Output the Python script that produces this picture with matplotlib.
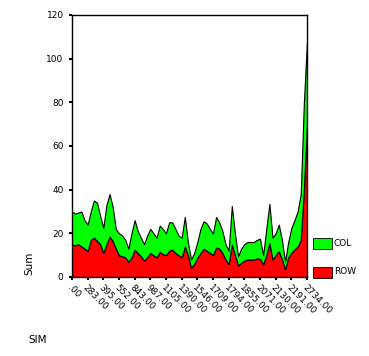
import numpy as np
import matplotlib
matplotlib.use('Agg')
from matplotlib import pyplot as plt
from matplotlib.patches import Rectangle

# data
row = [14.8, 14.5, 15, 14, 13, 12, 17, 18, 16.5, 15, 11, 15, 18.5, 16.5, 13, 10, 9.5, 9, 7, 9,
       12.5, 11, 9.5, 7.5, 9, 11, 10, 9, 11.5, 10.5, 10, 12, 12.5, 11, 10, 9, 14, 10, 4.2, 6,
       8.8, 11, 12.9, 12, 11, 10, 13.5, 13, 11, 8, 6, 14.8, 10, 5.3, 6.5, 7.5, 8, 8, 8, 8.5,
       8.3, 5.8, 10, 15.6, 8, 10, 11.8, 8, 3.5, 9, 11, 12.6, 14, 17, 40, 70]
col = [15.2, 14.5, 14.5, 16, 13, 12, 13, 17, 17.5, 13, 11.5, 18, 19.5, 15.5, 9, 10, 9.5, 8, 6, 11,
       13.5, 10, 8.5, 7.5, 10, 11, 10, 9, 12, 11.5, 10, 13, 12.5, 11, 9, 9, 13.5, 6, 3.8, 5,
       7.2, 11, 12.6, 12.5, 11, 10, 14, 12, 10, 7, 6, 17.7, 10, 4.2, 6.5, 7.5, 8, 8, 8, 8.5,
       9.2, 4.2, 12, 17.9, 10, 10, 12.2, 9, 3.5, 7, 11.5, 13.4, 16, 21, 40, 38]
tick_labels = ['.00', '283.00', '395.00', '552.00', '843.00', '987.00', '1105.00', '1390.00',
               '1546.00', '1709.00', '1794.00', '1855.00', '2071.00', '2130.00', '2191.00', '2734.00']

x = np.arange(len(row))

fig = plt.figure(figsize=(3.69, 3.56), dpi=100)
ax = fig.add_axes([0.195, 0.222, 0.637, 0.736])
ax.stackplot(x, row, col, colors=['#ff0000', '#00ff00'], edgecolor='black', linewidth=0.8)

ax.set_xlim(0, len(row) - 1)
ax.set_ylim(0, 120)
ax.set_yticks(range(0, 121, 20))
ax.set_xticks(x[::5])
ax.set_xticklabels(tick_labels, rotation=-45, ha='left', va='top', rotation_mode='anchor')
ax.tick_params(axis='both', labelsize=6.5, length=2.5, width=1.5, colors='black')
ax.tick_params(axis='x', pad=2)
for s in ax.spines.values():
    s.set_linewidth(1)

fig.text(0.08, 0.228, 'Sum', rotation=90, fontsize=7.5, ha='center', va='bottom')
fig.text(0.076, 0.045, 'SIM', fontsize=7.5, ha='left', va='center')

# legend
fig.patches.append(Rectangle((313 / 369, 1 - 249 / 356), 19 / 369, 11 / 356, transform=fig.transFigure,
                             facecolor='#00ff00', edgecolor='black', lw=0.6))
fig.patches.append(Rectangle((313 / 369, 1 - 278 / 356), 19 / 369, 11 / 356, transform=fig.transFigure,
                             facecolor='#ff0000', edgecolor='black', lw=0.6))
fig.text(334 / 369, 1 - 243 / 356, 'COL', fontsize=6.5, va='center')
fig.text(334 / 369, 1 - 272 / 356, 'ROW', fontsize=6.5, va='center')

fig.savefig('out.png', dpi=100)
